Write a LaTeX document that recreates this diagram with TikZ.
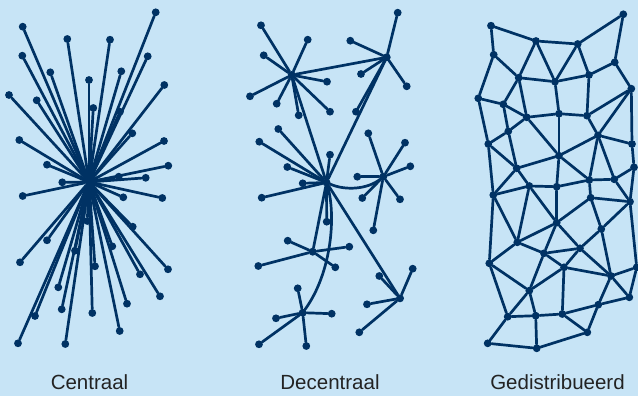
\documentclass[tikz,border=0pt]{standalone}
\usepackage{fontspec}
\setmainfont{Liberation Sans}
\definecolor{bgblue}{RGB}{199,228,246}
\definecolor{navy}{RGB}{0,50,100}
\definecolor{labelgray}{RGB}{35,35,35}
\tikzset{
  dot/.style={circle, fill=navy, inner sep=0pt, minimum size=7.8pt},
  hubdot/.style={circle, fill=navy, inner sep=0pt, minimum size=8pt},
  link/.style={draw=navy, line width=2.7pt, line cap=round},
  caption/.style={anchor=base, text=labelgray, font=\fontsize{20.5}{24}\selectfont}
}
\begin{document}
\begin{tikzpicture}[x=1pt, y=-1pt]
\fill[bgblue] (0,0) rectangle (638,396);
\useasboundingbox (0,0) rectangle (638,396);

% ---------- centralised: one hub, all spokes ----------
\node[hubdot] (hub) at (89,182) {};
\foreach \p [count=\i] in {(155.7,12.3),(22.7,26.7),(67.3,39),(110,39.7),(147.7,56.3),
  (22.3,55.7),(50.3,72.3),(121.3,71.3),(89,80),(164.3,85),(9,95),(36.7,100.3),
  (93.3,108),(120,111.7),(132.3,133.3),(19.3,140),(164,141),(47,164.7),(168.3,165.7),
  (118.7,176.7),(145.7,177.8),(62.3,182.3),(22.7,196),(123.3,197.3),(162.3,198),
  (87.3,221),(132.7,226.7),(47,240.3),(75,250.7),(112.3,246.3),(20,262.3),(95,266.3),
  (168,269.3),(140,274.3),(58.3,287.3),(160,296.3),(61.7,309.3),(127,303.7),(35,316),
  (92.3,313),(119.7,331),(18,343.3),(65.3,344)}
{
  \node[dot] (c\i) at \p {};
  \draw[link] (hub) -- (c\i);
}

% ---------- decentralised: several hubs ----------
\node[hubdot] (A) at (291.7,75) {};
\node[hubdot] (B) at (386.7,57.3) {};
\node[hubdot] (C) at (326.5,182.5) {};
\node[hubdot] (D) at (383.3,176.7) {};
\node[hubdot] (E) at (312.7,251.7) {};
\node[hubdot] (F) at (302.7,312.7) {};
\node[hubdot] (G) at (400,298.3) {};

\foreach \hubname/\pts in {
  A/{(261,25.3),(307.7,39.7),(263.7,55.3),(327,81.7),(250,96.3),(276.7,103.7),(298.7,115.3),(330,111.7)},
  B/{(397.7,12.7),(350.3,40.7),(361,74),(406.7,86.3),(356,111.7)},
  C/{(278.3,129),(259.3,141.7),(330,154.7),(287.3,167),(302.7,183.3),(261.7,197.7),(326.7,221.7)},
  D/{(368.3,133.3),(405,142.7),(410.3,166.3),(357.3,176.7),(362.3,198),(400,199.3),(373.3,230.3)},
  E/{(287.7,240.7),(349.3,246.7),(258.3,266),(335.3,267.3)},
  F/{(297.7,288.3),(331.7,313.7),(276,318.3),(259,344.3),(306.3,346)},
  G/{(379.3,276),(412.7,268.7),(367,304.3),(359.3,332.3)}}
{
  \foreach \p [count=\i] in \pts {
    \node[dot] (\hubname\i) at \p {};
    \draw[link] (\hubname) -- (\hubname\i);
  }
}
\draw[link] (A) -- (B);
\draw[link] (A) -- (C);
\draw[link] (B) -- (C);
\draw[link] (C) -- (E);
\draw[link] (C) -- (G);
\draw[link] (C) .. controls (346,191) and (368,189) .. (D);
\draw[link] (C) .. controls (336,215) and (332,272) .. (F);

% ---------- distributed: mesh ----------
\foreach \n/\p in {
  n1/{(491,25.7)}, n2/{(536,41)}, n3/{(577.7,44)}, n4/{(623.3,14.3)},
  n5/{(493.7,54.7)}, n6/{(518.7,77.7)}, n7/{(555,81.7)}, n8/{(589,75)},
  n9/{(614.7,62.3)}, n10/{(631.3,88.7)}, n11/{(478.3,98.3)}, n12/{(503.3,104.3)},
  n13/{(526.7,117.3)}, n14/{(559,113.7)}, n15/{(587,115.7)}, n16/{(508.3,131.3)},
  n17/{(488.3,144)}, n18/{(598,135.3)}, n19/{(632,144)}, n20/{(559,155.7)},
  n21/{(516.7,168.3)}, n22/{(634,167.3)}, n23/{(589.3,180)}, n24/{(614.3,179.3)},
  m1/{(493.3,195)}, m2/{(529.3,186)}, m3/{(556.7,186.7)}, m6/{(590.7,197.7)},
  m7/{(630,201.7)}, m8/{(556.7,222.7)}, m9/{(601.3,229)}, m10/{(517.3,242.3)},
  m11/{(544,253.3)}, m12/{(580,248.3)}, m13/{(489.3,263.3)}, m14/{(564,267.3)},
  m15/{(636.7,267.3)}, m16/{(611,276)}, m17/{(529.3,290.7)}, m18/{(629.3,297.3)},
  m19/{(598.3,304.7)}, m20/{(507.7,316.7)}, m21/{(535.7,315.7)}, m22/{(562.3,314)},
  m23/{(587.3,332.3)}, m24/{(487.7,343.3)}, m25/{(536.7,348.3)}}
{
  \node[dot] (\n) at \p {};
}
\foreach \a/\b in {
  n1/n2, n2/n3, n3/n4, n1/n5, n4/n9, n5/n6, n5/n11, n2/n6, n2/n7, n3/n7, n3/n8,
  n6/n7, n7/n8, n8/n9, n9/n10, n6/n12, n6/n13, n11/n12, n7/n14, n8/n15, n12/n13,
  n12/n16, n13/n14, n14/n15, n10/n15, n13/n16, n16/n17, n11/n17, n15/n18, n10/n18,
  n10/n19, n18/n19, n17/n21, n16/n21, n13/n20, n14/n20, n18/n20, n20/n21, n18/n23,
  n18/n24, n19/n22, n22/n24, n20/n23,
  n17/m1, n21/m1, n21/m2, n20/m3, m1/m2, m2/m3, m3/n23, n23/n24, n23/m6, m6/m7,
  n24/m7, n22/m7, m7/m15, m6/m8, m6/m9, m7/m9, m9/m12, m9/m16, m1/m10, m2/m10,
  m2/m8, m3/m8, m8/m10, m8/m11, m8/m12, m10/m11, m10/m13, m1/m13, m11/m12, m11/m14,
  m12/m14, m12/m16, m14/m16, m15/m16, m16/m18, m15/m18, m11/m17, m13/m17, m14/m17,
  m14/m22, m17/m20, m17/m21, m13/m20, m20/m21, m21/m22, m22/m19, m19/m18, m16/m19,
  m19/m23, m22/m23, m20/m24, m21/m25, m24/m25, m23/m25}
{
  \draw[link] (\a) -- (\b);
}

% ---------- captions ----------
\node[caption] (capc) at (89.5,389) {Centraal};
\node[caption] (capd) at (330,389) {Decentraal};
\node[caption] (capg) at (557.5,389) {Gedistribueerd};
\end{tikzpicture}
\end{document}
